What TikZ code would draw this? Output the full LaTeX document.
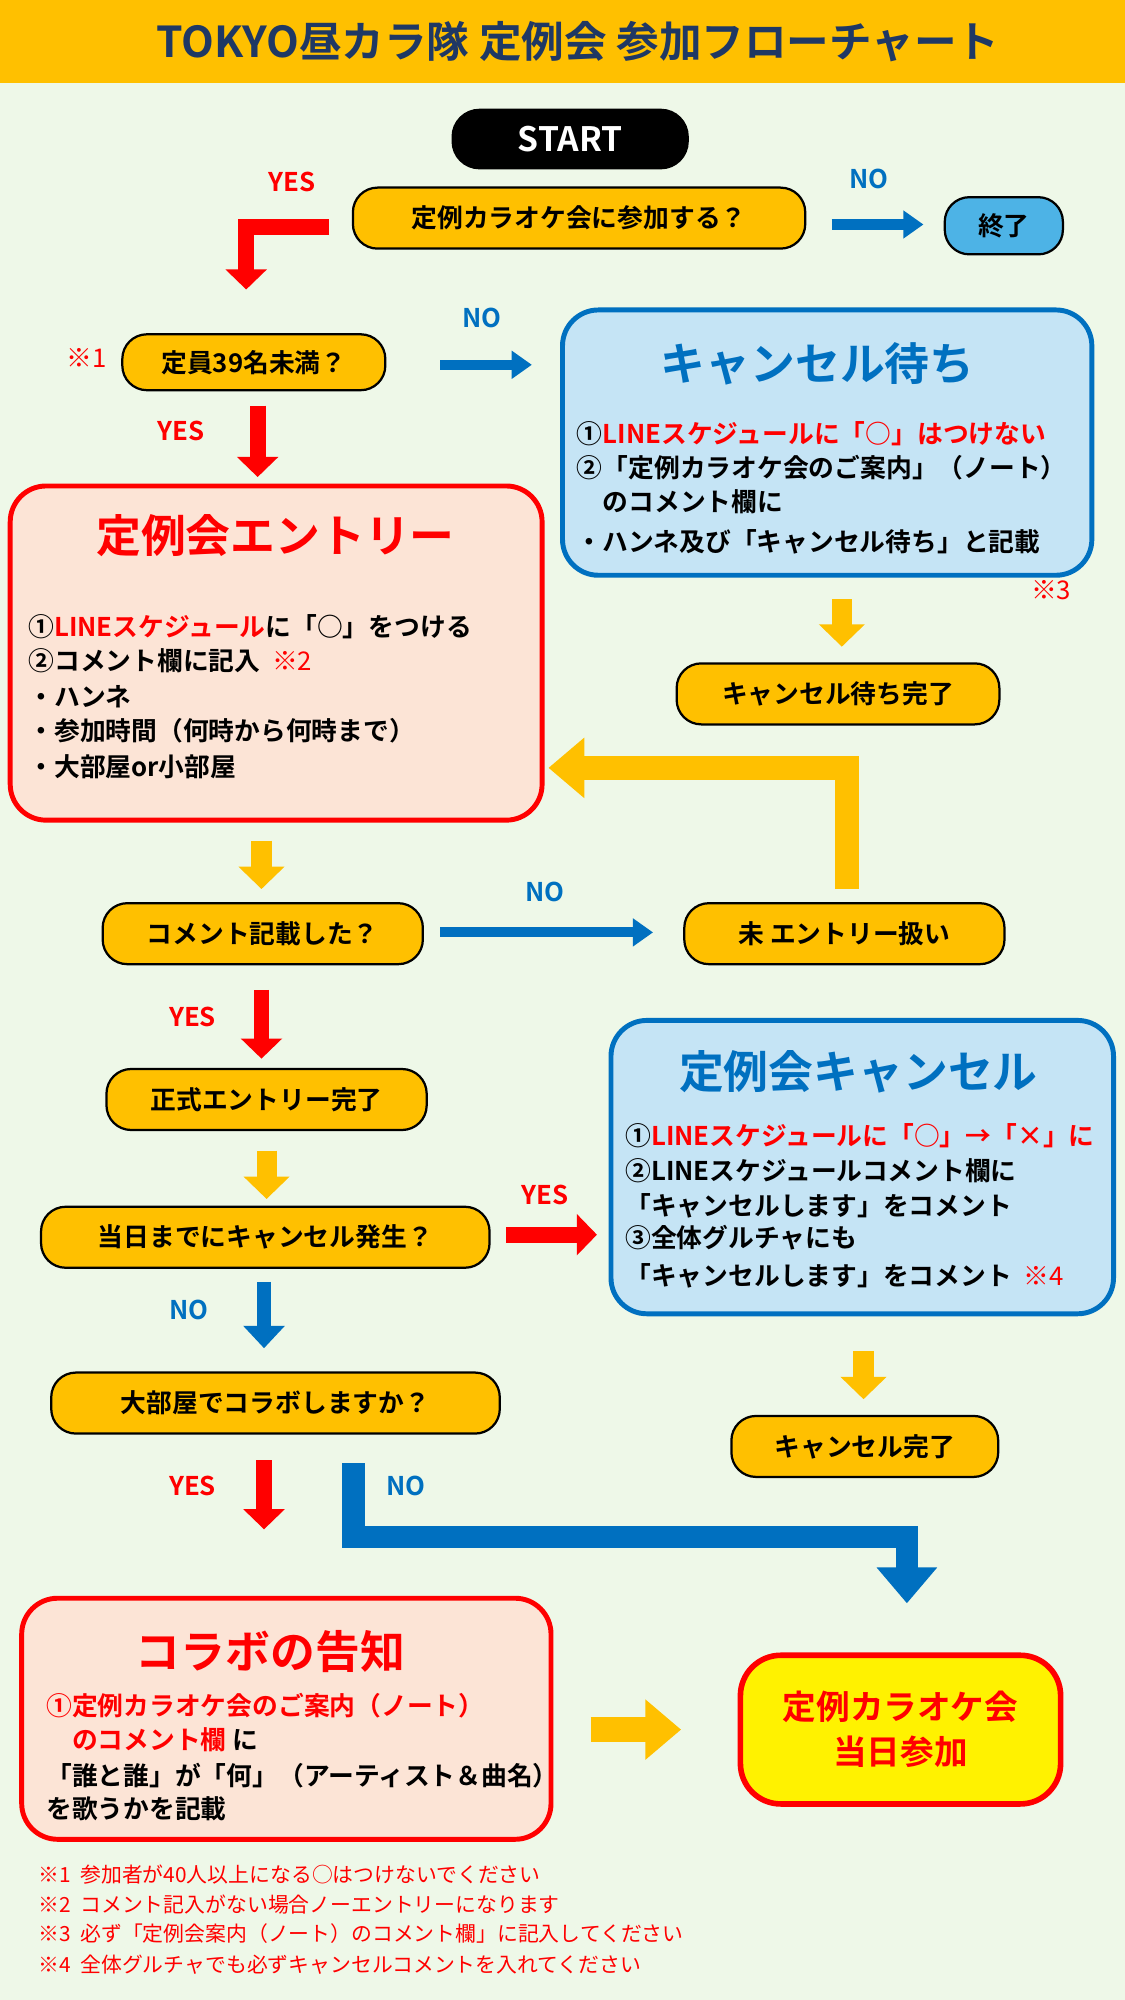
\documentclass[tikz,border=0pt]{standalone}
\usepackage{fontspec}
\setmainfont{Noto Sans CJK JP}[BoldFont={* Bold}]
\usetikzlibrary{arrows.meta,positioning,calc}
\definecolor{bg}{HTML}{EEF8E8}
\definecolor{orng}{HTML}{FFC000}
\definecolor{navy}{HTML}{1F3864}
\definecolor{nored}{HTML}{FF0000}
\definecolor{noblue}{HTML}{0070C0}
\definecolor{lblue}{HTML}{C5E4F5}
\definecolor{peach}{HTML}{FCE4D6}
\definecolor{endblue}{HTML}{4DB3E6}
\begin{document}
\begin{tikzpicture}[x=0.02cm,y=-0.02cm,
    pill/.style={draw,line width=1pt,fill=orng,rounded corners=11pt,minimum height=48*0.567pt,font=\bfseries\fontsize{11.5}{13}\selectfont,inner sep=2pt},
    bluebox/.style={draw=noblue,line width=2.2pt,fill=lblue,rounded corners=16pt},
    redbox/.style={draw=nored,line width=2.2pt,fill=peach,rounded corners=16pt},
    ttl/.style={font=\bfseries\fontsize{20}{22}\selectfont},
    line/.style={anchor=west,font=\bfseries\fontsize{11.5}{13}\selectfont,inner sep=0pt},
    lbl/.style={font=\bfseries\fontsize{11.5}{13}\selectfont},
    note/.style={anchor=west,text=nored,font=\fontsize{9.3}{11}\selectfont,inner sep=0pt},
    redarr/.style={draw=nored,line width=7pt,-{Triangle[width=18pt,length=9pt]}},
    bluearr/.style={draw=noblue,line width=4.5pt,-{Triangle[width=12pt,length=9pt]}},
    orarr/.style={draw=orng,line width=9pt,-{Triangle[width=20pt,length=10pt]}},
    bigblue/.style={draw=noblue,line width=10pt,-{Triangle[width=26pt,length=16pt]}},
    bigor/.style={draw=orng,line width=11pt,-{Triangle[width=26pt,length=16pt]}}]
\useasboundingbox (0,0) rectangle (882,1568);
\fill[bg] (0,0) rectangle (882,1568);
% --- title ---
\fill[orng] (0,0) rectangle (882,65);
\node[text=navy,font=\bfseries\fontsize{19}{21}\selectfont] (title) at (453,33) {TOKYO昼カラ隊 定例会 参加フローチャート};
% --- start ---
\node[draw,line width=1pt,fill=black,text=white,rounded corners=12pt,minimum width=185*0.567pt,minimum height=46*0.567pt,font=\bfseries\fontsize{15}{17}\selectfont] (start) at (447,109) {START};
\node[pill,minimum width=356*0.567pt] (join) at (454,171) {定例カラオケ会に参加する？};
\node[pill,fill=endblue,minimum width=93*0.567pt,minimum height=45*0.567pt] (end) at (787,177) {終了};
\node[lbl,text=nored] (yes1) at (229,143) {YES};
\node[lbl,text=noblue] (no1) at (681,140) {NO};
\coordinate (y1a) at (258,178); \coordinate (y1b) at (193,178); \coordinate (y1c) at (193,227);
\draw[redarr] (y1a) -- (y1b) -- (y1c);
\coordinate (n1a) at (652,176); \coordinate (n1b) at (724,176);
\draw[bluearr] (n1a) -- (n1b);
% --- capacity ---
\node[note,font=\fontsize{11.5}{13}\selectfont] (m1) at (52,281) {※1};
\node[pill,minimum width=207*0.567pt,minimum height=44*0.567pt] (cap) at (199,284) {定員39名未満？};
\node[lbl,text=noblue] (no2) at (378,249) {NO};
\coordinate (n2a) at (345,286); \coordinate (n2b) at (417,286);
\draw[bluearr] (n2a) -- (n2b);
\node[lbl,text=nored] (yes2) at (142,338) {YES};
\coordinate (y2a) at (202,318); \coordinate (y2b) at (202,374);
\draw[redarr] (y2a) -- (y2b);
% --- waiting box ---
\draw[bluebox] (441,243) rectangle (856,451);
\node[ttl,text=noblue] (waitT) at (641,285) {キャンセル待ち};
\node[line] (w1) at (452,340) {①\textcolor{nored}{LINEスケジュールに「○」はつけない}};
\node[line] (w2) at (452,367) {②「定例カラオケ会のご案内」（ノート）};
\node[line] (w3) at (452,393) {\quad のコメント欄に};
\node[line] (w4) at (452,425) {・ハンネ及び「キャンセル待ち」と記載};
\node[note,font=\fontsize{11.5}{13}\selectfont] (m3) at (808,463) {※3};
\coordinate (wa) at (660,470); \coordinate (wb) at (660,507);
\draw[orarr] (wa) -- (wb);
\node[pill,minimum width=254*0.567pt] (waitD) at (657,544) {キャンセル待ち完了};
% --- entry box ---
\draw[redbox] (8,381) rectangle (425,643);
\node[ttl,text=nored] (entT) at (216,420) {定例会エントリー};
\node[line] (e1) at (22,491) {①\textcolor{nored}{LINEスケジュール}に「○」をつける};
\node[line] (e2) at (22,518) {②コメント欄に記入\ \ \textcolor{nored}{\fontseries{m}\selectfont ※2}};
\node[line] (e3) at (22,546) {・ハンネ};
\node[line] (e4) at (22,573) {・参加時間（何時から何時まで）};
\node[line] (e5) at (22,601) {・大部屋or小部屋};
\coordinate (ra) at (664,697); \coordinate (rb) at (664,602); \coordinate (rc) at (430,602);
\draw[bigor] (ra) -- (rb) -- (rc);
\coordinate (ea) at (205,659); \coordinate (eb) at (205,697);
\draw[orarr] (ea) -- (eb);
% --- comment check ---
\node[pill,minimum width=252*0.567pt] (cmt) at (206,732) {コメント記載した？};
\node[lbl,text=noblue] (no3) at (427,699) {NO};
\coordinate (n3a) at (345,731); \coordinate (n3b) at (512,731);
\draw[bluearr] (n3a) -- (n3b);
\node[pill,minimum width=252*0.567pt] (unent) at (662,732) {未 エントリー扱い};
\node[lbl,text=nored] (yes3) at (151,797) {YES};
\coordinate (y3a) at (205,776); \coordinate (y3b) at (205,830);
\draw[redarr] (y3a) -- (y3b);
\node[pill,minimum width=252*0.567pt] (done) at (209,862) {正式エントリー完了};
\coordinate (da) at (209,902); \coordinate (db) at (209,940);
\draw[orarr] (da) -- (db);
\node[pill,minimum width=353*0.567pt] (canq) at (208,970) {当日までにキャンセル発生？};
\node[lbl,text=nored] (yes4) at (427,937) {YES};
\coordinate (y4a) at (397,968); \coordinate (y4b) at (468,968);
\draw[redarr] (y4a) -- (y4b);
% --- cancel box ---
\draw[bluebox] (479,800) rectangle (873,1030);
\node[ttl,text=noblue] (canT) at (673,840) {定例会キャンセル};
\node[line] (c1) at (490,890) {①\textcolor{nored}{LINEスケジュールに「○」→「×」に}};
\node[line] (c2) at (490,918) {②LINEスケジュールコメント欄に};
\node[line] (c3) at (490,945) {「キャンセルします」をコメント};
\node[line] (c4) at (490,970) {③全体グルチャにも};
\node[line] (c5) at (490,1000) {「キャンセルします」をコメント\ \ \textcolor{nored}{\fontseries{m}\selectfont ※4}};
\coordinate (ca) at (677,1059); \coordinate (cb) at (677,1097);
\draw[orarr] (ca) -- (cb);
\node[pill,minimum width=210*0.567pt] (canD) at (678,1134) {キャンセル完了};
% --- collab ---
\node[lbl,text=noblue] (no4) at (148,1027) {NO};
\coordinate (n4a) at (207,1005); \coordinate (n4b) at (207,1057);
\draw[bluearr,line width=6pt,-{Triangle[width=18pt,length=10pt]}] (n4a) -- (n4b);
\node[pill,minimum width=353*0.567pt] (collq) at (216,1100) {大部屋でコラボしますか？};
\node[lbl,text=nored] (yes5) at (151,1165) {YES};
\coordinate (y5a) at (207,1145); \coordinate (y5b) at (207,1199);
\draw[redarr] (y5a) -- (y5b);
\node[lbl,text=noblue] (no5) at (318,1165) {NO};
\coordinate (n5a) at (277,1147); \coordinate (n5b) at (277,1205); \coordinate (n5c) at (711,1205); \coordinate (n5d) at (711,1257);
\draw[bigblue] (n5a) -- (n5b) -- (n5c) -- (n5d);
\draw[redbox] (17,1253) rectangle (432,1442);
\node[ttl,text=nored] (colT) at (212,1295) {コラボの告知};
\node[line] (k1) at (36,1337) {\textcolor{nored}{①定例カラオケ会のご案内（ノート）}};
\node[line] (k2) at (36,1364) {\textcolor{nored}{\quad のコメント欄} に};
\node[line] (k3) at (36,1392) {「誰と誰」が「何」（アーティスト＆曲名）};
\node[line] (k4) at (36,1418) {を歌うかを記載};
\coordinate (ka) at (463,1356); \coordinate (kb) at (534,1356);
\draw[bigor] (ka) -- (kb);
% --- attend ---
\node[draw=nored,line width=2.5pt,fill=yellow,rounded corners=18pt,minimum width=252*0.567pt,minimum height=117*0.567pt,text=nored,align=center,font=\bfseries\fontsize{15}{20}\selectfont] (attend) at (706,1356) {定例カラオケ会\\当日参加};
% --- notes ---
\node[note] (f1) at (30,1470) {※1\ \ 参加者が40人以上になる○はつけないでください};
\node[note] (f2) at (30,1493) {※2\ \ コメント記入がない場合ノーエントリーになります};
\node[note] (f3) at (30,1516) {※3\ \ 必ず「定例会案内（ノート）のコメント欄」に記入してください};
\node[note] (f4) at (30,1540) {※4\ \ 全体グルチャでも必ずキャンセルコメントを入れてください};
\end{tikzpicture}
\end{document}
